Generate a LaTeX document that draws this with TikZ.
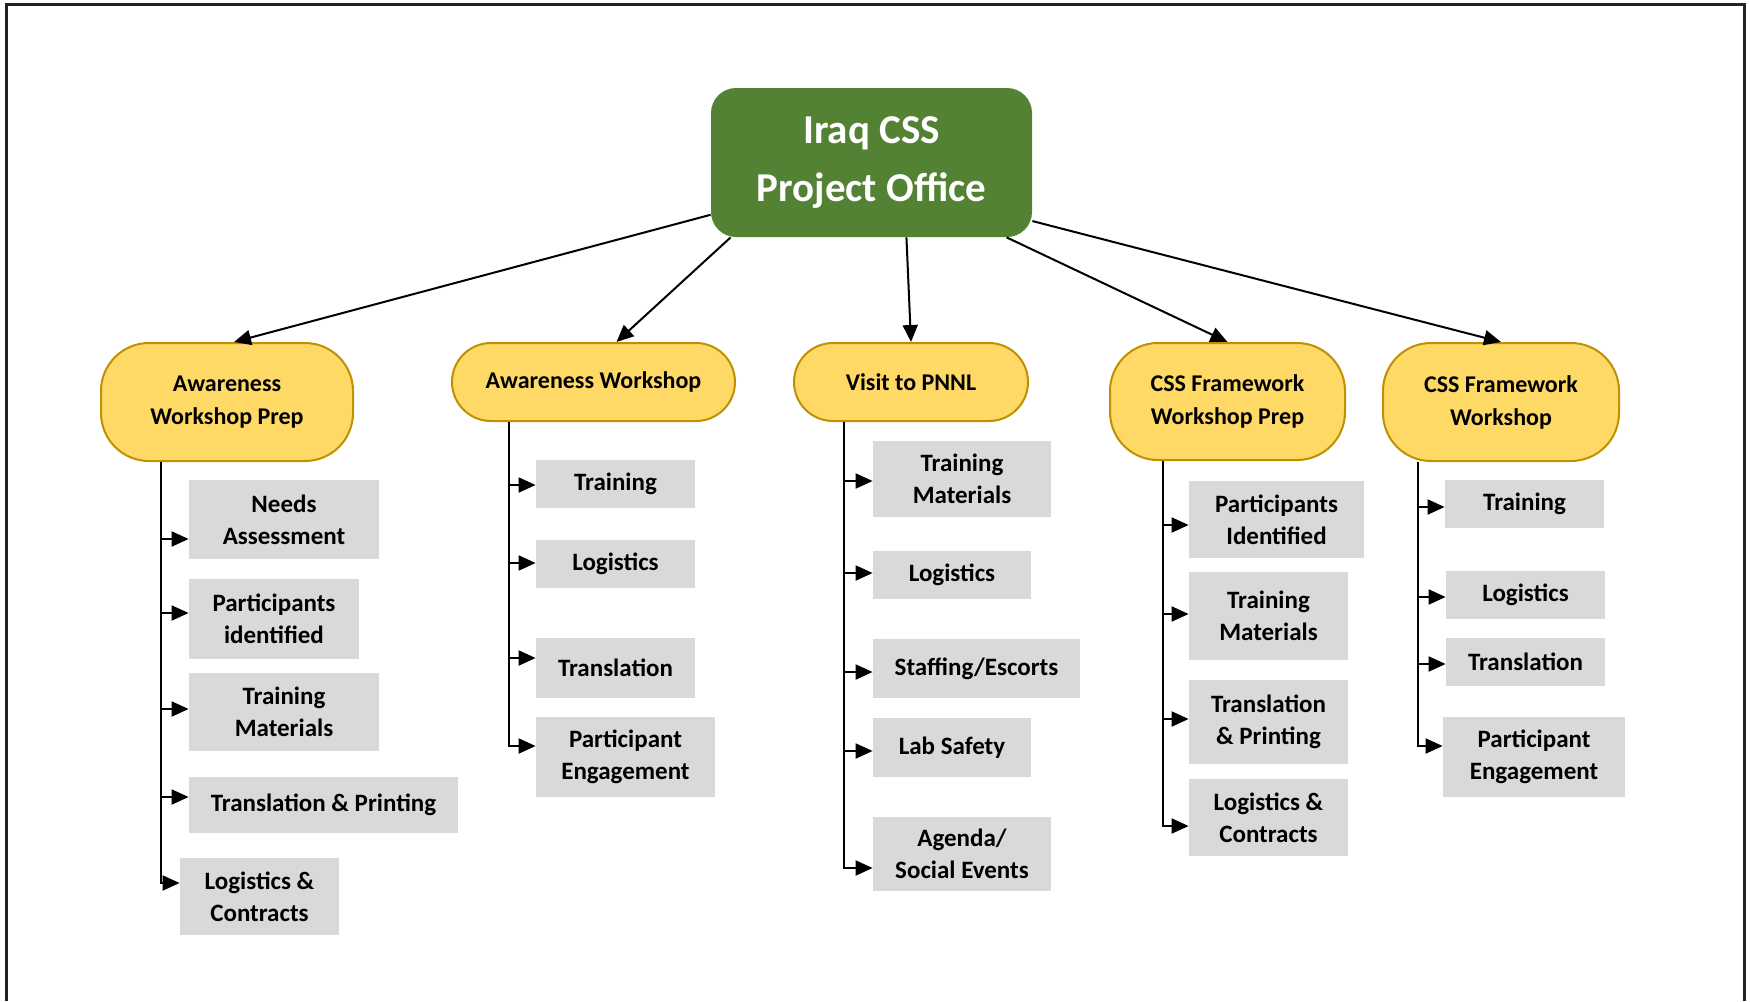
\documentclass[tikz,border=0pt]{standalone}
\usepackage{fontspec}
\setmainfont{Carlito}
\usetikzlibrary{arrows.meta}
\definecolor{officegreen}{HTML}{548235}
\definecolor{taskfill}{HTML}{FFD966}
\definecolor{taskline}{HTML}{BF9000}
\definecolor{itemgray}{HTML}{D9D9D9}
\definecolor{framegray}{HTML}{222222}
\begin{document}
\begin{tikzpicture}[x=0.5pt,y=-0.5pt]
            \tikzstyle{every node}=[align=center, inner sep=0pt]
            \tikzstyle{office}=[fill=officegreen, text=white, rounded corners=12.5pt, font=\fontsize{20.5}{29}\selectfont\bfseries]
            \tikzstyle{task}=[fill=taskfill, draw=taskline, line width=1pt, font=\fontsize{12}{16.5}\selectfont\bfseries]
            \tikzstyle{item}=[fill=itemgray, font=\fontsize{12.5}{16}\selectfont\bfseries]
            \tikzstyle{link}=[line width=1pt, -{Triangle[length=8.5pt,width=7.5pt]}]
            \useasboundingbox (0,0) rectangle (1750,1001);
            \draw [line width=1.5pt, color=framegray] (6.5,1001) -- (6.5,4.5) -- (1744.5,4.5) -- (1744.5,1001);
            \node [office, minimum width=160.5pt, minimum height=74.5pt] (root) at (871.5,162.5) {Iraq CSS\\Project Office};
            \node [task, minimum width=126pt, minimum height=59pt, rounded corners=24pt] (c1) at (227,402) {Awareness\\Workshop Prep};
            \node [task, minimum width=141.5pt, minimum height=39pt, rounded corners=19.5pt] (c2) at (593.5,382) {Awareness Workshop};
            \node [task, minimum width=117pt, minimum height=39pt, rounded corners=19.5pt] (c3) at (911,382) {Visit to PNNL};
            \node [task, minimum width=117.5pt, minimum height=58.5pt, rounded corners=24pt] (c4) at (1227.5,401.5) {CSS Framework\\Workshop Prep};
            \node [task, minimum width=118pt, minimum height=59pt, rounded corners=24pt] (c5) at (1501,402) {CSS Framework\\Workshop};
            \draw [link] (root.198) -- ([xshift=3.5pt]c1.north);
            \draw [link] (root.208) -- ([xshift=11.5pt]c2.north);
            \draw [link] (root.295) -- (c3.north);
            \draw [link] (root.331) -- (c4.north);
            \draw [link] (root.340) -- (c5.north);
            % awareness workshop prep
            \node [item, minimum width=95pt, minimum height=39.5pt] (l11) at (284,519.5) {Needs\\Assessment};
            \node [item, minimum width=85pt, minimum height=40pt] (l12) at (274,619) {Participants\\identified};
            \node [item, minimum width=95pt, minimum height=39pt] (l13) at (284,712) {Training\\Materials};
            \node [item, minimum width=134.5pt, minimum height=28pt] (l14) at (323.5,805) {Translation \& Printing};
            \node [item, minimum width=79.5pt, minimum height=38.5pt] (l15) at (259.5,896.5) {Logistics \&\\Contracts};
            \coordinate (t1) at (161,461);
            \draw [link] (c1.south -| t1) |- (l15.west |- 0,883);
            \foreach \n/\y in {l11/539, l12/613, l13/709, l14/797}
                \draw [link] (t1 |- 0,\y) -- (\n.west |- 0,\y);
            % awareness workshop
            \node [item, minimum width=79.5pt, minimum height=24pt] (l21) at (615.5,484) {Training};
            \node [item, minimum width=79.5pt, minimum height=24pt] (l22) at (615.5,564) {Logistics};
            \node [item, minimum width=79.5pt, minimum height=30pt] (l23) at (615.5,668) {Translation};
            \node [item, minimum width=89.5pt, minimum height=40pt] (l24) at (625.5,757) {Participant\\Engagement};
            \coordinate (t2) at (509,421);
            \draw [link] (c2.south -| t2) |- (l24.west |- 0,746);
            \foreach \n/\y in {l21/485, l22/563, l23/658}
                \draw [link] (t2 |- 0,\y) -- (\n.west |- 0,\y);
            % visit to pnnl
            \node [item, minimum width=89pt, minimum height=38pt] (l31) at (962,479) {Training\\Materials};
            \node [item, minimum width=79pt, minimum height=24pt] (l32) at (952,575) {Logistics};
            \node [item, minimum width=103.5pt, minimum height=29.5pt] (l33) at (976.5,668.5) {Staffing/Escorts};
            \node [item, minimum width=79pt, minimum height=29.5pt] (l34) at (952,747.5) {Lab Safety};
            \node [item, minimum width=89pt, minimum height=37pt] (l35) at (962,854) {Agenda/\\Social Events};
            \coordinate (t3) at (844,421);
            \draw [link] (c3.south -| t3) |- (l35.west |- 0,868);
            \foreach \n/\y in {l31/481, l32/573, l33/672, l34/751}
                \draw [link] (t3 |- 0,\y) -- (\n.west |- 0,\y);
            % css framework workshop prep
            \node [item, minimum width=87.5pt, minimum height=38.5pt] (l41) at (1276.5,519.5) {Participants\\Identified};
            \node [item, minimum width=79.5pt, minimum height=44pt] (l42) at (1268.5,616) {Training\\Materials};
            \node [item, minimum width=79.5pt, minimum height=42pt] (l43) at (1268.5,722) {Translation\\\& Printing};
            \node [item, minimum width=79.5pt, minimum height=38.5pt] (l44) at (1268.5,817.5) {Logistics \&\\Contracts};
            \coordinate (t4) at (1163,460);
            \draw [link] (c4.south -| t4) |- (l44.west |- 0,826);
            \foreach \n/\y in {l41/525, l42/614, l43/719}
                \draw [link] (t4 |- 0,\y) -- (\n.west |- 0,\y);
            % css framework workshop
            \node [item, minimum width=79.5pt, minimum height=24pt] (l51) at (1524.5,504) {Training};
            \node [item, minimum width=79.5pt, minimum height=24pt] (l52) at (1525.5,595) {Logistics};
            \node [item, minimum width=79.5pt, minimum height=24pt] (l53) at (1525.5,662) {Translation};
            \node [item, minimum width=91pt, minimum height=40pt] (l54) at (1534,757) {Participant\\Engagement};
            \coordinate (t5) at (1418,461);
            \draw [link] (c5.south -| t5) |- (l54.west |- 0,746);
            \foreach \n/\y in {l51/507, l52/597, l53/664}
                \draw [link] (t5 |- 0,\y) -- (\n.west |- 0,\y);
        \end{tikzpicture}
\end{document}
